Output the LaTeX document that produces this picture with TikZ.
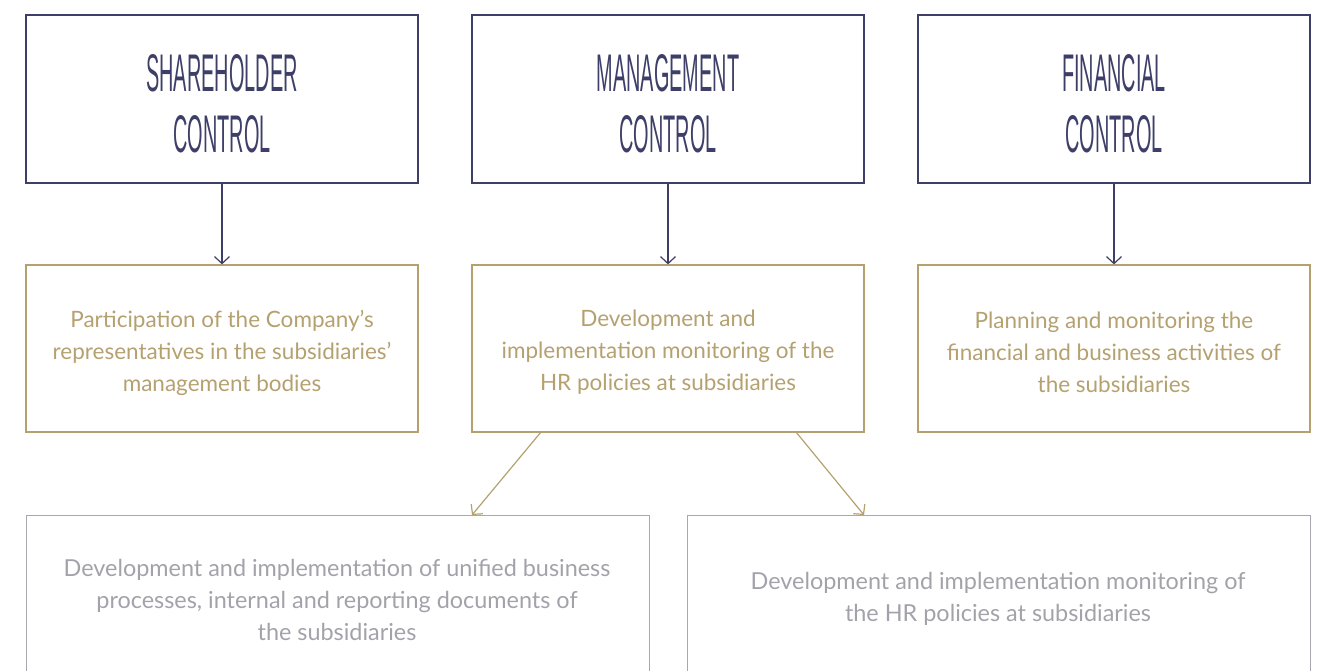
\documentclass[tikz,border=0pt]{standalone}
\usepackage{fontspec}
\setmainfont{Lato}
\newfontfamily\titlefont[FakeStretch=0.375]{Liberation Sans}
\usetikzlibrary{arrows.meta}
\definecolor{navy}{HTML}{3E3F68}
\definecolor{gold}{HTML}{B5A16F}
\definecolor{greyb}{HTML}{A9A8B0}
\definecolor{greyt}{HTML}{A3A2AA}
\tikzset{
  topbox/.style={draw=navy, line width=1.2pt, minimum width=392pt, minimum height=168pt, inner sep=0pt},
  toptext/.style={text=navy, align=center, inner sep=0pt, font=\titlefont\fontsize{53}{61}\selectfont},
  midbox/.style={draw=gold, line width=1.2pt, minimum width=392pt, minimum height=167pt, inner sep=0pt},
  midtext/.style={text=gold, align=center, inner sep=0pt, font=\fontsize{22.5}{32}\selectfont},
  lowbox/.style={draw=greyb, line width=1.2pt, minimum width=623pt, minimum height=170pt, inner sep=0pt},
  lowtext/.style={text=greyt, align=center, inner sep=0pt, font=\fontsize{23.4}{32}\selectfont},
  navyarrow/.style={draw=navy, line width=1.2pt, -{Straight Barb[length=7pt,width=15pt]}},
  goldarrow/.style={draw=gold, line width=1.2pt, -{Straight Barb[length=7pt,width=15pt]}}
}
\begin{document}
\begin{tikzpicture}[x=1pt,y=-1pt]
\useasboundingbox (0,0) rectangle (1329,671);
\clip (0,0) rectangle (1329,671);
\node[topbox] (t1) at (222,99) {};
\node[topbox] (t2) at (668,99) {};
\node[topbox] (t3) at (1114,99) {};
\node[toptext] (t1t) at (222,104) {SHAREHOLDER\\CONTROL};
\node[toptext] (t2t) at (668,104) {MANAGEMENT\\CONTROL};
\node[toptext] (t3t) at (1114,104) {FINANCIAL\\CONTROL};
\node[midbox] (m1) at (222,348.5) {};
\node[midbox] (m2) at (668,348.5) {};
\node[midbox] (m3) at (1114,348.5) {};
\node[midtext] (m1t) at (222,352.5) {Participation of the Company’s\\representatives in the subsidiaries’\\management bodies};
\node[midtext] (m2t) at (668,352.5) {Development and\\implementation monitoring of the\\HR policies at subsidiaries};
\node[midtext] (m3t) at (1114,352.5) {Planning and monitoring the\\financial and business activities of\\the subsidiaries};
\node[lowbox, anchor=north west] (b1) at (26,515) {};
\node[lowbox, anchor=north west] (b2) at (687,515) {};
\node[lowtext] (b1t) at (337,600) {Development and implementation of unified business\\processes, internal and reporting documents of\\the subsidiaries};
\node[lowtext] (b2t) at (998,599) {Development and implementation monitoring of\\the HR policies at subsidiaries};
\draw[navyarrow] (t1.south) -- (m1.north);
\draw[navyarrow] (t2.south) -- (m2.north);
\draw[navyarrow] (t3.south) -- (m3.north);
\coordinate (d1s) at (541,432);
\coordinate (d2s) at (796,432);
\draw[goldarrow] (d1s) -- (b1.north west -| 472,0);
\draw[goldarrow] (d2s) -- (b2.north west -| 864,0);
\end{tikzpicture}
\end{document}
